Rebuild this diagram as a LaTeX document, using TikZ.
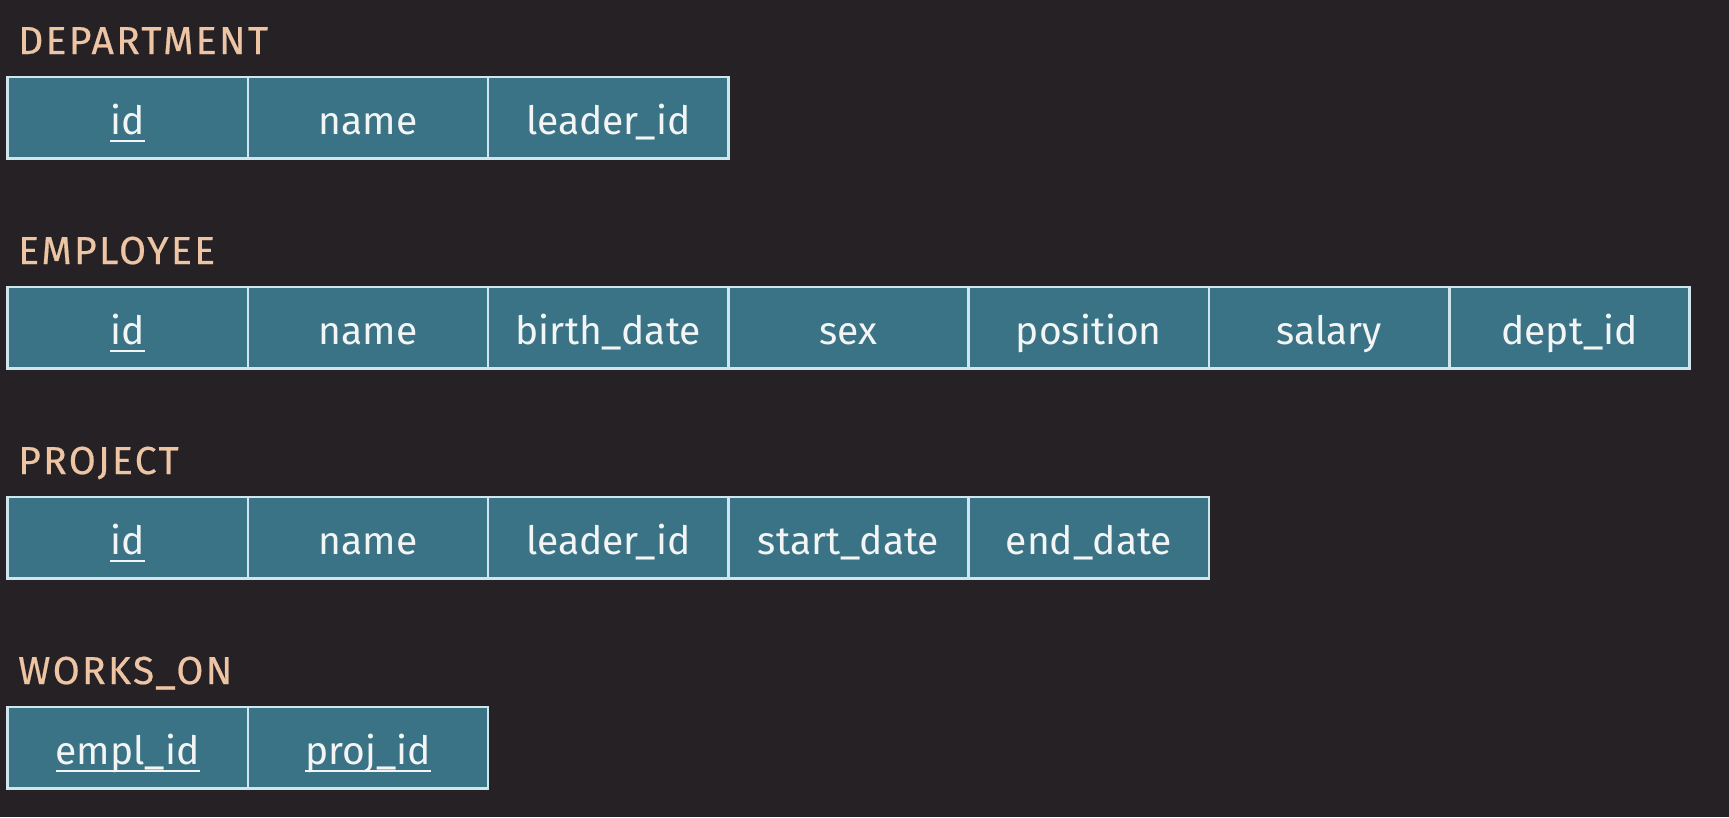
\documentclass[tikz,border=0pt]{standalone}
\usepackage{fontspec}
\setmainfont{Fira Sans}
\newfontfamily\titlefont{Fira Sans}[LetterSpace=6, FakeBold=0.5]
\usetikzlibrary{positioning}
\definecolor{bgDark}{HTML}{252124}
\definecolor{cellTeal}{HTML}{3B7386}
\definecolor{cellEdge}{HTML}{CFE7EC}
\definecolor{titlePeach}{HTML}{EDC4A4}
\definecolor{cellText}{HTML}{F3F5F5}
\newcommand{\keyattr}[1]{\setbox0\hbox{#1}\rlap{\rule[-7pt]{\wd0}{2.2pt}}\box0}
\tikzset{
  cell/.style={draw=cellEdge, line width=2.5pt, fill=cellTeal, rectangle, minimum width=240.3pt, minimum height=81.5pt, inner sep=0pt, outer sep=0pt, text height=34pt, text depth=0pt, text=cellText, font=\fontsize{39}{44}\selectfont},
  tabletitle/.style={anchor=base west, inner sep=0pt, text=titlePeach, font=\titlefont\fontsize{39}{44}\selectfont}
}
\begin{document}
\begin{tikzpicture}[x=1pt, y=-1pt]
\fill[bgDark] (0,0) rectangle (1729,817);
\useasboundingbox (0,0) rectangle (1729,817);
% DEPARTMENT
\node[tabletitle] (deptTitle) at (18, 54) {DEPARTMENT};
\node[cell, anchor=north west] (deptId) at (7.5, 77) {\keyattr{id}};
\node[cell, right=0pt of deptId] (deptName) {name};
\node[cell, right=0pt of deptName] (deptLeader) {leader\_id};
% EMPLOYEE
\node[tabletitle] (empTitle) at (18, 264) {EMPLOYEE};
\node[cell, anchor=north west] (empId) at (7.5, 287) {\keyattr{id}};
\node[cell, right=0pt of empId] (empName) {name};
\node[cell, right=0pt of empName] (empBirth) {birth\_date};
\node[cell, right=0pt of empBirth] (empSex) {sex};
\node[cell, right=0pt of empSex] (empPosition) {position};
\node[cell, right=0pt of empPosition] (empSalary) {salary};
\node[cell, right=0pt of empSalary] (empDept) {dept\_id};
% PROJECT
\node[tabletitle] (projTitle) at (18, 474) {PROJECT};
\node[cell, anchor=north west] (projId) at (7.5, 497) {\keyattr{id}};
\node[cell, right=0pt of projId] (projName) {name};
\node[cell, right=0pt of projName] (projLeader) {leader\_id};
\node[cell, right=0pt of projLeader] (projStart) {start\_date};
\node[cell, right=0pt of projStart] (projEnd) {end\_date};
% WORKS_ON
\node[tabletitle] (worksTitle) at (18, 684) {WORKS\_ON};
\node[cell, anchor=north west] (worksEmpl) at (7.5, 707) {\keyattr{empl\_id}};
\node[cell, right=0pt of worksEmpl] (worksProj) {\keyattr{proj\_id}};
\end{tikzpicture}
\end{document}
